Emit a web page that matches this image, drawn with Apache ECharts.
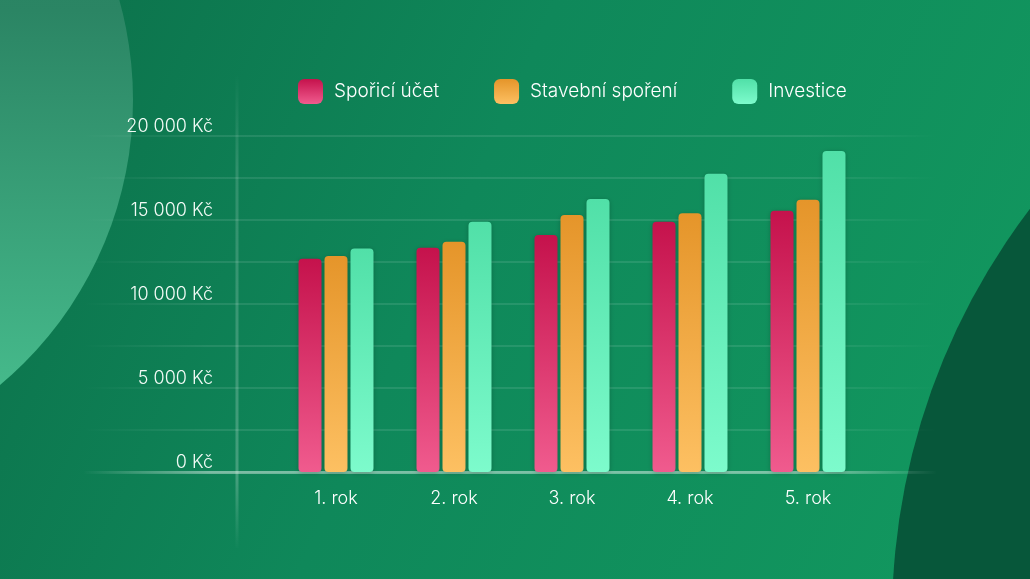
<!DOCTYPE html>
<html>
<head>
<meta charset="utf-8">
<script src="https://cdn.jsdelivr.net/npm/echarts@6/dist/echarts.min.js"></script>
<style>
html,body{margin:0;padding:0;background:#0f8659;}
#c{width:1030px;height:579px;}
</style>
</head>
<body>
<div id="c"></div>
<script>
const categories = ['1. rok', '2. rok', '3. rok', '4. rok', '5. rok'];
const seriesNames = ['Spořicí účet', 'Stavební spoření', 'Investice'];
const sporiciUcet = [12700, 13350, 14100, 14900, 15550];
const stavebniSporeni = [12850, 13700, 15300, 15400, 16200];
const investice = [13300, 14900, 16250, 17750, 19100];
const yTicks = [0, 5000, 10000, 15000, 20000];

const FONT = 'Inter';
const FW = 300;
function grad(top, bottom) {
  return new echarts.graphic.LinearGradient(0, 0, 0, 1, [
    { offset: 0, color: top }, { offset: 1, color: bottom }
  ]);
}
function fmt(v) {
  return String(v).replace(/\B(?=(\d{3})+(?!\d))/g, ' ') + ' Kč';
}
const hFade = (a) => new echarts.graphic.LinearGradient(0, 0, 1, 0, [
  { offset: 0, color: 'rgba(255,255,255,0)' },
  { offset: 0.15, color: 'rgba(255,255,255,' + a + ')' },
  { offset: 0.85, color: 'rgba(255,255,255,' + a + ')' },
  { offset: 1, color: 'rgba(255,255,255,0)' }
]);

const colors = [
  grad('#c5124c', '#f05b8e'),
  grad('#e5952a', '#fdc062'),
  grad('#51e0a8', '#7dfbcc')
];
const dataSets = [sporiciUcet, stavebniSporeni, investice];

const chart = echarts.init(document.getElementById('c'), null, { renderer: 'canvas' });
chart.setOption({
  backgroundColor: new echarts.graphic.LinearGradient(0, 0, 1, 0.8, [
    { offset: 0, color: '#0c704a' },
    { offset: 0.45, color: '#0f885a' },
    { offset: 1, color: '#12985f' }
  ]),
  animation: false,
  textStyle: { fontFamily: FONT, fontWeight: FW },
  graphic: [
    {
      type: 'circle', z: -10, silent: true,
      shape: { cx: -239, cy: 100, r: 372 },
      style: {
        fill: new echarts.graphic.LinearGradient(0, 0, 0, 1, [
          { offset: 0, color: '#1f7a58' },
          { offset: 0.38, color: '#2b8564' },
          { offset: 0.9, color: '#46bb8c' },
          { offset: 1, color: '#48be8e' }
        ])
      }
    },
    {
      type: 'circle', z: -10, silent: true,
      shape: { cx: 1568, cy: 618, r: 676 },
      style: { fill: '#07573a' }
    },
    {
      type: 'line', z: -5, silent: true,
      shape: { x1: 237, y1: 76, x2: 237, y2: 548 },
      style: {
        lineWidth: 3,
        stroke: new echarts.graphic.LinearGradient(0, 0, 0, 1, [
          { offset: 0, color: 'rgba(255,255,255,0)' },
          { offset: 0.2, color: 'rgba(255,255,255,0.14)' },
          { offset: 0.85, color: 'rgba(255,255,255,0.22)' },
          { offset: 1, color: 'rgba(255,255,255,0)' }
        ])
      }
    }
  ],
  legend: {
    data: seriesNames,
    left: 298, top: 79, padding: 0,
    itemWidth: 25, itemHeight: 25, itemGap: 55,
    icon: 'roundRect',
    textStyle: { color: '#ffffff', fontSize: 19, fontFamily: FONT, fontWeight: FW, padding: [0, 0, 0, 6] }
  },
  grid: [
    { left: 277, right: 163, top: 136, bottom: 107 },
    { left: 85, right: 95, top: 136, bottom: 107 }
  ],
  xAxis: [
    {
      type: 'category', gridIndex: 0, data: categories,
      axisLine: { show: false }, axisTick: { show: false },
      axisLabel: { color: '#ffffff', fontSize: 18, fontFamily: FONT, fontWeight: FW, margin: 18 }
    },
    {
      type: 'value', gridIndex: 1, min: 0, max: 1,
      axisLabel: { show: false }, axisTick: { show: false }, splitLine: { show: false },
      axisLine: { show: true, lineStyle: { width: 3, color: hFade(0.4) } }
    }
  ],
  yAxis: [
    {
      type: 'value', gridIndex: 0, min: 0, max: 20000, interval: 5000,
      axisLine: { show: false }, axisTick: { show: false }, splitLine: { show: false },
      axisLabel: {
        color: '#f2fbf6', fontSize: 18, fontFamily: FONT, fontWeight: FW, margin: 64,
        verticalAlign: 'bottom',
        formatter: (v) => yTicks.includes(v) ? fmt(v) : ''
      }
    },
    {
      type: 'value', gridIndex: 1, min: 0, max: 20000, interval: 2500,
      axisLine: { show: false }, axisTick: { show: false }, axisLabel: { show: false },
      splitLine: { show: true, lineStyle: { width: 1.5, color: hFade(0.13) } }
    }
  ],
  series: seriesNames.map((name, i) => ({
    name, type: 'bar', xAxisIndex: 0, yAxisIndex: 0,
    data: dataSets[i],
    barWidth: 23, barGap: '13%',
    itemStyle: {
      color: colors[i], borderRadius: 4,
      shadowBlur: 5, shadowColor: 'rgba(0,0,0,0.22)', shadowOffsetY: 1
    }
  }))
});
</script>
</body>
</html>
